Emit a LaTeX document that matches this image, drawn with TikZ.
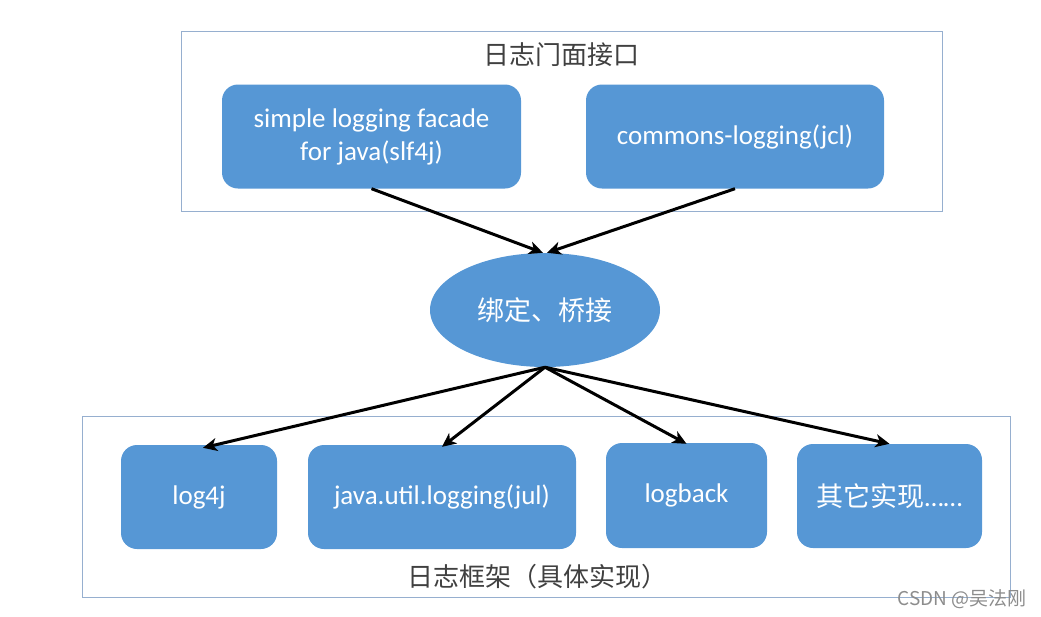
\documentclass[tikz,border=0pt]{standalone}
\usepackage{fontspec}
\setmainfont{Carlito}
\newfontfamily\cjk{Noto Sans CJK SC}
\usetikzlibrary{shapes.geometric,arrows.meta}
\definecolor{boxblue}{RGB}{86,151,213}
\definecolor{framecol}{RGB}{150,175,207}
\begin{document}
\begin{tikzpicture}[x=1pt, y=-1pt,
    box/.style = {shape=rectangle, rounded corners=16pt, fill=boxblue, text=white, inner sep=0pt,
                  align=center, minimum height=104pt, font=\fontsize{27}{33}\selectfont},
    frame/.style = {shape=rectangle, draw=framecol, line width=1pt, inner sep=0pt},
    title/.style = {text=black!75, font=\cjk\fontsize{26}{30}\selectfont},
    arr/.style = {line width=3pt, -{Stealth[length=14pt, width=13pt, inset=4pt]}}]
    \useasboundingbox (0,0) rectangle (1041,616);
    % frames
    \node[frame, minimum width=761pt, minimum height=180pt] (topframe) at (561.5,121) {};
    \node[frame, minimum width=928pt, minimum height=181pt] (bottomframe) at (546,506.5) {};
    \node[title] (toptitle) at (561,55) {日志门面接口};
    \node[title] (bottomtitle) at (537,577) {日志框架（具体实现）};
    % facades
    \node[box, minimum width=299pt] (slf) at (371.5,136.5) {simple logging facade\\for java(slf4j)};
    \node[box, minimum width=298pt] (jcl) at (735,136.5) {commons-logging(jcl)};
    % binding
    \node[shape=ellipse, fill=boxblue, text=white, inner sep=0pt, minimum width=230pt,
          minimum height=114pt, font=\cjk\fontsize{27}{30}\selectfont] (bind) at (545,310) {绑定、桥接};
    % implementations
    \node[box, minimum width=156pt] (logfj) at (199,497) {log4j};
    \node[box, minimum width=268pt] (jul) at (442,497) {java.util.logging(jul)};
    \node[box, minimum width=161pt, minimum height=105pt] (logback) at (686.5,495.5) {logback};
    \node[box, minimum width=185pt] (other) at (889.5,496) {{\cjk 其它实现}……};
    % connectors
    \draw[arr] (slf.south) -- ([xshift=-2pt]bind.north);
    \draw[arr] (jcl.south) -- ([xshift=2pt]bind.north);
    \draw[arr] (bind.south) -- ([xshift=4pt, yshift=-3pt]logfj.north);
    \draw[arr] (bind.south) -- ([yshift=-2pt]jul.north);
    \draw[arr] (bind.south) -- ([yshift=-1pt]logback.north);
    \draw[arr] (bind.south) -- (other.north);
    % watermark
    \node[text=black!45, font=\cjk\fontsize{19}{22}\selectfont, anchor=east] (mark) at (1030,599) {CSDN @吴法刚};
\end{tikzpicture}
\end{document}
